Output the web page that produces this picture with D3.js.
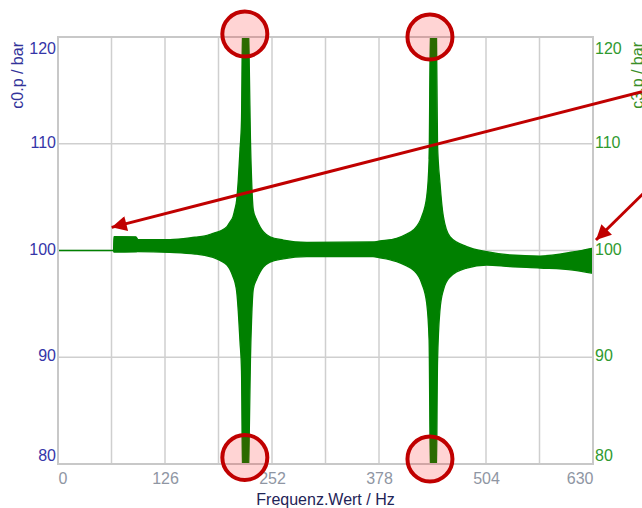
<!DOCTYPE html>
<html>
<head>
<meta charset="utf-8">
<script src="https://cdn.jsdelivr.net/npm/d3@7"></script>
<style>
  html, body { margin: 0; padding: 0; background: #fff; }
  svg { display: block; font-family: "Liberation Sans", Arial, sans-serif; }
</style>
</head>
<body>
<svg id="chart" width="642" height="508"></svg>
<script>
// frequency (Hz) with the upper / lower envelope of the c0.p signal (bar)
const freqHz = [0, 65.4, 65.9, 91.8, 94.2, 131.9, 161.3, 173.1, 182.5, 190.8, 199.0, 202.5, 206.1, 208.4, 210.4,
  212.3, 214.3, 216.1, 217.3, 224.3, 225.5, 226.6, 228.0, 230.0, 234.0, 237.9, 241.8, 249.6, 265.3, 292.9,
  370.9, 379.1, 398.8, 410.6, 418.4, 428.3, 434.2, 437.0, 438.6, 445.6, 446.9, 449.8, 453.8, 461.6, 481.3,
  504.8, 532.3, 567.6, 606.4, 630];
const upperBar = [100, 100, 101.3, 101.28, 101.02, 101.02, 101.24, 101.36, 101.61, 101.83, 102.23, 102.67, 103.17, 103.89, 104.73,
  106.6, 109.41, 112.2, 121, 121, 116, 110.5, 106.6, 103.79, 102.86, 102.23, 101.76, 101.29, 100.98, 100.77,
  100.8, 100.89, 101.14, 101.55, 101.92, 103.17, 105.04, 108.5, 121, 121, 110, 106.32, 103.17, 101.29, 100.36,
  99.89, 99.58, 99.48, 99.86, 100.23];
const lowerBar = [100, 100, 99.85, 99.87, 99.9, 99.82, 99.67, 99.54, 99.36, 99.07, 98.64, 98.23, 97.55, 97.01, 96.17,
  94.3, 91.49, 88.7, 79, 79, 84.2, 89.7, 93.6, 96.41, 97.34, 97.97, 98.44, 98.91, 99.22, 99.43,
  99.42, 99.32, 98.96, 98.55, 98.18, 96.93, 95.06, 91.6, 79, 79, 89.5, 94.43, 96.3, 97.52, 98.36,
  98.64, 98.48, 98.36, 98.17, 97.86];

const xTicks = [0, 126, 252, 378, 504, 630];
const xGrid = [0, 63, 126, 189, 252, 315, 378, 441, 504, 567, 630];
const yTicks = [80, 90, 100, 110, 120];

// annotations: red circles on the resonance peaks, red arrows (tail -> tip)
const circleHz = [220, 438, 220, 438];
const circleBar = [120.28, 120, 80.61, 80.47];
const arrowTail = [[687.7, 114.88], [691, 105.48]];
const arrowTip = [[63.2, 102.17], [633.5, 100.98]];

const svg = d3.select("#chart");
const plot = { left: 58, right: 593, top: 37, bottom: 464 };

const x = d3.scaleLinear().domain([0, 630]).range([plot.left, plot.right]);
const y = d3.scaleLinear().domain([80, 120]).range([plot.bottom, plot.top]);

const defs = svg.append("defs");
defs.append("clipPath").attr("id", "plot")
  .append("rect").attr("x", plot.left).attr("y", plot.top)
  .attr("width", plot.right - plot.left).attr("height", plot.bottom - plot.top);
const marker = defs.append("marker")
  .attr("id", "head").attr("viewBox", "0 0 10 10")
  .attr("refX", 10).attr("refY", 5)
  .attr("markerWidth", 6).attr("markerHeight", 5)
  .attr("markerUnits", "strokeWidth")
  .attr("orient", "auto");
marker.append("path").attr("d", "M0,0L10,5L0,10Z").attr("fill", "#c00000");

// grid
svg.append("g").selectAll("line").data(xGrid).enter().append("line")
  .attr("x1", d => x(d)).attr("x2", d => x(d))
  .attr("y1", plot.top).attr("y2", plot.bottom)
  .attr("stroke", "#cfcfcf").attr("stroke-width", 1.5);
svg.append("g").selectAll("line").data(yTicks).enter().append("line")
  .attr("x1", plot.left).attr("x2", plot.right)
  .attr("y1", d => y(d)).attr("y2", d => y(d))
  .attr("stroke", "#cfcfcf").attr("stroke-width", 1.5);

// signal envelope
const band = freqHz.map((f, i) => ({ f: f, hi: upperBar[i], lo: lowerBar[i] }));
const area = d3.area()
  .curve(d3.curveMonotoneX)
  .x(d => x(d.f))
  .y0(d => y(d.lo))
  .y1(d => y(d.hi));
svg.append("path")
  .datum(band)
  .attr("clip-path", "url(#plot)")
  .attr("d", area)
  .attr("fill", "#008000")
  .attr("stroke", "#008000")
  .attr("stroke-width", 1.3);

// frame
svg.append("rect")
  .attr("x", plot.left).attr("y", plot.top)
  .attr("width", plot.right - plot.left).attr("height", plot.bottom - plot.top)
  .attr("fill", "none").attr("stroke", "#c8c8c8").attr("stroke-width", 2);

// axes
const yLeft = svg.append("g")
  .attr("transform", "translate(" + plot.left + ",0)")
  .call(d3.axisLeft(y).tickValues(yTicks).tickSize(0).tickPadding(2));
const yRight = svg.append("g")
  .attr("transform", "translate(" + plot.right + ",0)")
  .call(d3.axisRight(y).tickValues(yTicks).tickSize(0).tickPadding(2));
[yLeft, yRight].forEach(g => {
  g.select(".domain").remove();
  g.selectAll("text")
    .style("font-size", "16px")
    .attr("dy", d => d === 120 ? "1em" : d === 80 ? "-0.25em" : "0.22em");
});
yLeft.selectAll("text").attr("fill", "#3535a8");
yRight.selectAll("text").attr("fill", "#2f9a2f");

const xAxis = svg.append("g")
  .attr("transform", "translate(0," + plot.bottom + ")")
  .call(d3.axisBottom(x).tickValues(xTicks).tickSize(0).tickPadding(9));
xAxis.select(".domain").remove();
xAxis.selectAll("text")
  .style("font-size", "16px")
  .attr("fill", "#8f96a3")
  .attr("text-anchor", d => d === 0 ? "start" : d === 630 ? "end" : "middle");

// axis titles
svg.append("text")
  .attr("transform", "translate(23,42)rotate(-90)")
  .attr("text-anchor", "end")
  .style("font-size", "16px")
  .attr("fill", "#33339a")
  .text("c0.p / bar");
svg.append("text")
  .attr("transform", "translate(643,42)rotate(-90)")
  .attr("text-anchor", "end")
  .style("font-size", "16px")
  .attr("fill", "#3a8f2a")
  .text("c3.p / bar");
svg.append("text")
  .attr("x", (plot.left + plot.right) / 2).attr("y", 505)
  .attr("text-anchor", "middle")
  .style("font-size", "16px")
  .attr("fill", "#1f2457")
  .text("Frequenz.Wert / Hz");

// annotations
svg.append("g").selectAll("line").data(arrowTail).enter().append("line")
  .attr("x1", d => x(d[0])).attr("y1", d => y(d[1]))
  .attr("x2", (d, i) => x(arrowTip[i][0])).attr("y2", (d, i) => y(arrowTip[i][1]))
  .attr("stroke", "#c00000").attr("stroke-width", 3)
  .attr("marker-end", "url(#head)");

svg.append("g").selectAll("circle").data(circleHz).enter().append("circle")
  .attr("cx", d => x(d))
  .attr("cy", (d, i) => y(circleBar[i]))
  .attr("r", 22.5)
  .attr("fill", "rgba(255,0,0,0.17)")
  .attr("stroke", "#c00000")
  .attr("stroke-width", 4);
</script>
</body>
</html>
